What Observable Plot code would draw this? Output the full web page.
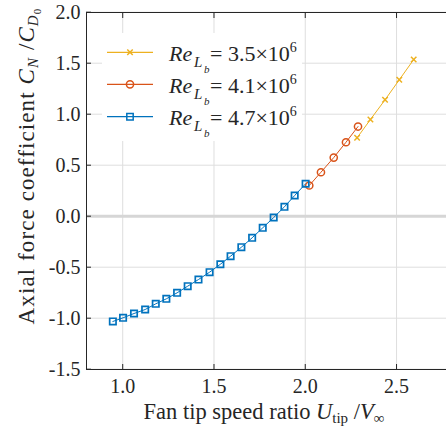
<!DOCTYPE html>
<html>
<head>
<meta charset="utf-8">
<script src="https://cdn.jsdelivr.net/npm/d3@7"></script>
<script src="https://cdn.jsdelivr.net/npm/@observablehq/plot@0.6"></script>
<style>
  html, body { margin: 0; padding: 0; background: white; }
  #chart { position: relative; width: 446px; height: 433px; overflow: hidden; }
  #chart svg { position: absolute; left: 0; top: 0; }
  #chart svg text { font-family: "Liberation Serif", "Times New Roman", serif; }
</style>
</head>
<body>
<div id="chart"></div>
<script>
// ---- data ----
const xTicks = [1.0, 1.5, 2.0, 2.5];
const yTicks = [-1.5, -1.0, -0.5, 0.0, 0.5, 1.0, 1.5, 2.0];

const seriesNames = ["3.5", "4.1", "4.7"];
const seriesColors = ["#EDB120", "#D95319", "#0072BD"];
const seriesSymbols = ["times", "circle", "square"];

const ratio35 = [2.284, 2.357, 2.437, 2.515, 2.594];
const coef35  = [0.769, 0.948, 1.141, 1.337, 1.536];

const ratio41 = [2.022, 2.086, 2.156, 2.223, 2.289];
const coef41  = [0.301, 0.431, 0.575, 0.725, 0.879];

const ratio47 = [0.946, 1.002, 1.062, 1.123, 1.181, 1.239, 1.298, 1.356, 1.415, 1.476,
                 1.535, 1.591, 1.650, 1.709, 1.767, 1.827, 1.886, 1.942, 2.002];
const coef47  = [-1.032, -0.996, -0.954, -0.915, -0.859, -0.810, -0.751, -0.686, -0.621, -0.549,
                 -0.471, -0.392, -0.304, -0.212, -0.114, -0.013, 0.092, 0.203, 0.318];

const toRows = (xs, ys) => xs.map((x, i) => ({x, y: ys[i]}));
const d35 = toRows(ratio35, coef35);
const d41 = toRows(ratio41, coef41);
const d47 = toRows(ratio47, coef47);

const fmt = d => d.toFixed(1);
const font = "Liberation Serif";
const axisColor = "#262626";

const plot = Plot.plot({
  width: 446,
  height: 433,
  marginLeft: 86, marginTop: 12, marginBottom: 64, marginRight: 0,
  x: {domain: [0.8, 2.8], range: [85.7, 450.8]},
  y: {domain: [-1.5, 2.0], range: [368.7, 11.7]},
  style: {fontFamily: font, fontSize: "20px", color: axisColor, background: "white", overflow: "hidden"},
  marks: [
    Plot.gridX(xTicks, {stroke: "#dedede", strokeOpacity: 1, strokeWidth: 1}),
    Plot.gridY(yTicks, {stroke: "#dedede", strokeOpacity: 1, strokeWidth: 1}),
    Plot.ruleY([0], {stroke: "#d6d6d6", strokeWidth: 3}),
    Plot.axisX(xTicks, {anchor: "bottom", tickSize: -5, tickPadding: 14, tickFormat: fmt, label: null, fontSize: 20, fontFamily: font, stroke: axisColor}),
    Plot.axisX(xTicks, {anchor: "top", tickSize: -5, tickFormat: () => "", label: null, stroke: axisColor}),
    Plot.axisY(yTicks, {anchor: "left", tickSize: -5, tickPadding: 11, tickFormat: fmt, label: null, fontSize: 20, fontFamily: font, stroke: axisColor}),
    Plot.frame({stroke: axisColor, strokeWidth: 1}),
    Plot.line(d35, {x: "x", y: "y", stroke: seriesColors[0], strokeWidth: 1}),
    Plot.dot(d35, {x: "x", y: "y", symbol: seriesSymbols[0], r: 2.6, stroke: seriesColors[0], strokeWidth: 1.5, fill: "none"}),
    Plot.line(d41, {x: "x", y: "y", stroke: seriesColors[1], strokeWidth: 1}),
    Plot.dot(d41, {x: "x", y: "y", symbol: seriesSymbols[1], r: 3.6, stroke: seriesColors[1], strokeWidth: 1.5, fill: "none"}),
    Plot.line(d47, {x: "x", y: "y", stroke: seriesColors[2], strokeWidth: 1}),
    Plot.dot(d47, {x: "x", y: "y", symbol: seriesSymbols[2], r: 3.6, stroke: seriesColors[2], strokeWidth: 1.7, fill: "none"})
  ]
});
document.getElementById("chart").appendChild(plot);

// ---- overlay: axis labels and legend ----
const ov = d3.select("#chart").append("svg")
  .attr("width", 446).attr("height", 433)
  .style("fill", axisColor);

// x label
const xl = ov.append("text").attr("x", 264).attr("y", 419).attr("text-anchor", "middle").style("font-size", "22.5px");
xl.append("tspan").text("Fan tip speed ratio ");
xl.append("tspan").style("font-style", "italic").text("U");
xl.append("tspan").attr("dy", 4).style("font-size", "15px").text("tip");
xl.append("tspan").attr("dy", -4).text(" /");
xl.append("tspan").style("font-style", "italic").text("V");
xl.append("tspan").attr("dy", 4).style("font-size", "15px").text("∞");

// y label
const yl = ov.append("text").attr("transform", "translate(34,166) rotate(-90)").attr("text-anchor", "middle")
  .style("font-size", "23px").style("letter-spacing", "1.1px");
yl.append("tspan").text("Axial force coefficient ");
yl.append("tspan").style("font-style", "italic").text("C");
yl.append("tspan").attr("dy", 4).style("font-size", "15px").style("font-style", "italic").text("N");
yl.append("tspan").attr("dy", -4).text(" /");
yl.append("tspan").style("font-style", "italic").text("C");
yl.append("tspan").attr("dy", 4).style("font-size", "15px").style("font-style", "italic").text("D");
yl.append("tspan").attr("dy", 3).style("font-size", "11px").text("0");

// legend
ov.append("rect").attr("x", 102).attr("y", 33).attr("width", 200).attr("height", 108).attr("fill", "white");
const rowY = [52.3, 84.3, 116.7];
seriesNames.forEach((name, i) => {
  const y = rowY[i];
  const c = seriesColors[i];
  ov.append("line").attr("x1", 107).attr("x2", 153).attr("y1", y).attr("y2", y)
    .attr("stroke", c).attr("stroke-width", 1.2);
  const sym = {times: d3.symbolTimes, circle: d3.symbolCircle, square: d3.symbolSquare}[seriesSymbols[i]];
  const r = [2.6, 3.6, 3.6][i];
  ov.append("path").attr("d", d3.symbol(sym, Math.PI * r * r)())
    .attr("transform", `translate(130,${y})`)
    .attr("fill", "none").attr("stroke", c).attr("stroke-width", 1.5);
  const by = y + 8.5;
  ov.append("text").attr("x", 169).attr("y", by).style("font-size", "22px").style("font-style", "italic").text("Re");
  ov.append("text").attr("x", 194).attr("y", by + 6).style("font-size", "15px").style("font-style", "italic").text("L");
  ov.append("text").attr("x", 204).attr("y", by + 12).style("font-size", "11px").style("font-style", "italic").text("b");
  const t = ov.append("text").attr("x", 210).attr("y", by).style("font-size", "22px");
  t.append("tspan").text("= " + name + "×10");
  t.append("tspan").attr("dy", -9).style("font-size", "14px").text("6");
});
</script>
</body>
</html>
